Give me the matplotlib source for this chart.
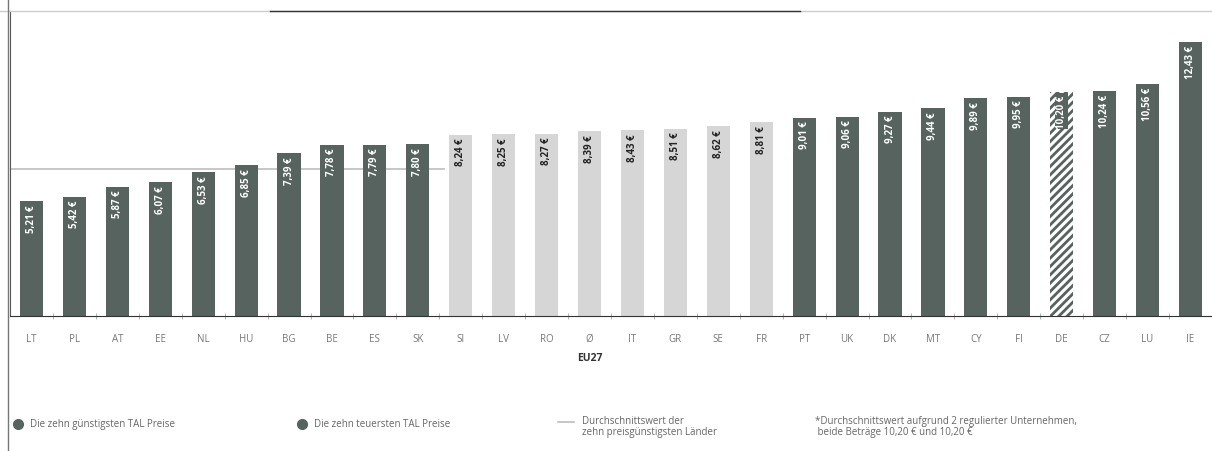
import numpy as np
import matplotlib.pyplot as plt
from matplotlib.lines import Line2D

countries = ["LT", "PL", "AT", "EE", "NL", "HU", "BG", "BE", "ES", "SK",
             "SI", "LV", "RO", "Ø", "IT", "GR", "SE", "FR",
             "PT", "UK", "DK", "MT", "CY", "FI", "DE", "CZ", "LU", "IE"]
prices = [5.21, 5.42, 5.87, 6.07, 6.53, 6.85, 7.39, 7.78, 7.79, 7.80,
          8.24, 8.25, 8.27, 8.39, 8.43, 8.51, 8.62, 8.81,
          9.01, 9.06, 9.27, 9.44, 9.89, 9.95, 10.20, 10.24, 10.56, 12.43]
# 0 = cheapest ten, 1 = middle, 2 = most expensive ten
group = [0] * 10 + [1] * 8 + [2] * 10
hatched = ["DE"]
avg_label = "EU27"

dark = "#56635f"
light = "#d6d6d6"

plt.rcParams["font.family"] = ["Open Sans", "DejaVu Sans"]
plt.rcParams["hatch.linewidth"] = 2.0

fig = plt.figure(figsize=(12.12, 4.52), dpi=100)
ax = fig.add_axes([10 / 1212, 1 - 317 / 452, 1202 / 1212, 305 / 452])

x = np.arange(len(countries))
for i, (c, v, g) in enumerate(zip(countries, prices, group)):
    lbl = f"{v:.2f} €".replace(".", ",")
    if c in hatched:
        ax.bar(i, v, width=0.54, color="white", edgecolor=dark, hatch="////", linewidth=0)
        ax.text(i, v - 0.12, lbl, rotation=90, ha="center", va="top", fontsize=7,
                color="white", fontweight="bold",
                bbox=dict(boxstyle="square,pad=0.1", fc=dark, ec="none"))
        continue
    ax.bar(i, v, width=0.54, color=dark if g != 1 else light, linewidth=0)
    tc = "white" if g != 1 else "#222222"
    ax.text(i, v - 0.12, lbl, rotation=90, ha="center", va="top",
            fontsize=7, color=tc, fontweight="bold")

# average of the ten cheapest countries
avg = np.mean([p for p, g in zip(prices, group) if g == 0])
ax.plot([-0.5, 9.6], [avg, avg], color="#bdbdbd", lw=1.2, zorder=0)

ax.set_xlim(-0.5, len(countries) - 0.5)
ax.set_ylim(0, 13.86)
ax.set_xticks(x)
ax.set_xticklabels(countries, fontsize=7, color="#777777")
ax.set_xticks(x[:-1] + 0.5, minor=True)
ax.tick_params(axis="x", which="major", length=0, pad=12)
ax.tick_params(axis="x", which="minor", length=5, color="#aaaaaa", direction="inout")
ax.set_yticks([])
for s in ["top", "right"]:
    ax.spines[s].set_visible(False)
ax.spines["left"].set_color("#555555")
ax.spines["bottom"].set_color("#333333")

ax.text(countries.index("Ø"), -1.65, avg_label, ha="center", va="top", fontsize=7.5,
        fontweight="bold", color="#333333")

# frame line at the top
fig.add_artist(Line2D([0, 1], [1 - 12 / 452] * 2, color="#cccccc", lw=1))
fig.add_artist(Line2D([270 / 1212, 800 / 1212], [1 - 12 / 452] * 2, color="#333333", lw=1))
fig.add_artist(Line2D([8 / 1212] * 2, [0, 1], color="#777777", lw=1))

# legend row
ly = 1 - 425 / 452
fig.add_artist(Line2D([18 / 1212], [ly], marker="o", ms=7, color=dark, lw=0))
fig.text(30 / 1212, ly, "Die zehn günstigsten TAL Preise", fontsize=7, color="#666666", va="center")
fig.add_artist(Line2D([302 / 1212], [ly], marker="o", ms=7, color=dark, lw=0))
fig.text(314 / 1212, ly, "Die zehn teuersten TAL Preise", fontsize=7, color="#666666", va="center")
fig.add_artist(Line2D([558 / 1212, 574 / 1212], [ly + 0.004] * 2, color="#bdbdbd", lw=1.2))
fig.text(582 / 1212, ly - 0.005, "Durchschnittswert der\nzehn preisgünstigsten Länder", fontsize=7,
         color="#666666", va="center", linespacing=1.0)
fig.text(815 / 1212, ly - 0.005,
         "*Durchschnittswert aufgrund 2 regulierter Unternehmen,\n beide Beträge 10,20 € und 10,20 €",
         fontsize=7, color="#666666", va="center", linespacing=1.0)

fig.savefig("out.png", dpi=100)
